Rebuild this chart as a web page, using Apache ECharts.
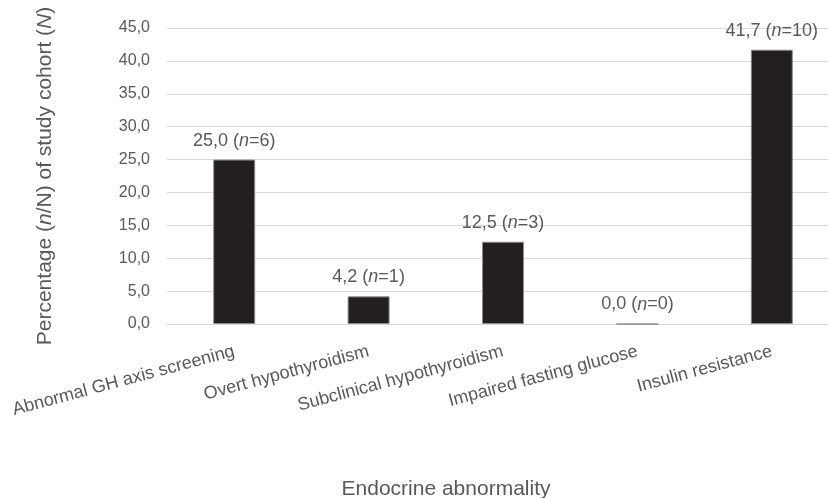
<!DOCTYPE html>
<html>
<head>
<meta charset="utf-8">
<script src="https://cdn.jsdelivr.net/npm/echarts@6/dist/echarts.min.js"></script>
<style>html,body{margin:0;padding:0;background:#fff;overflow:hidden;width:828px;height:498px;}#c{width:828px;height:498px;}</style>
</head>
<body>
<div id="c"></div>
<script>
const categories = ['Abnormal GH axis screening', 'Overt hypothyroidism', 'Subclinical hypothyroidism', 'Impaired fasting glucose', 'Insulin resistance'];
const percentages = [25.0, 4.2, 12.5, 0.0, 41.7];
const counts = [6, 1, 3, 0, 10];
const yTicks = { min: 0, max: 45, interval: 5 };

const fmt = v => v.toFixed(1).replace('.', ',');
const textColor = '#595959';
const fam = '"Liberation Sans", Arial, sans-serif';

const chart = echarts.init(document.getElementById('c'), null, { renderer: 'canvas' });
chart.setOption({
  animation: false,
  backgroundColor: '#ffffff',
  grid: { left: 167, top: 28, width: 672, height: 296, containLabel: false, outerBoundsMode: 'none' },
  xAxis: {
    type: 'category',
    data: categories,
    axisTick: { show: false },
    axisLine: { lineStyle: { color: '#d9d9d9', width: 1 } },
    axisLabel: { rotate: 15, color: textColor, fontSize: 18, fontFamily: fam, margin: 27, interval: 0 },
    name: 'Endocrine abnormality',
    nameLocation: 'middle',
    nameGap: 155,
    nameTextStyle: { color: textColor, fontSize: 21, fontFamily: fam, padding: [0, 114, 0, 0] }
  },
  yAxis: {
    type: 'value',
    min: yTicks.min, max: yTicks.max, interval: yTicks.interval,
    axisLine: { show: false },
    axisTick: { show: false },
    splitLine: { lineStyle: { color: '#d9d9d9', width: 1 } },
    axisLabel: { color: textColor, fontSize: 16, fontFamily: fam, margin: 17, formatter: v => fmt(v) },
    name: 'Percentage ({i|n}/N) of study cohort ({i|N})',
    nameLocation: 'middle',
    nameGap: 111,
    nameTextStyle: {
      color: textColor, fontSize: 21, fontFamily: fam,
      rich: { i: { fontStyle: 'italic', color: textColor, fontSize: 21, fontFamily: fam } }
    }
  },
  series: [{
    type: 'bar',
    data: percentages,
    barWidth: 42,
    itemStyle: { color: '#231f20', borderColor: '#8c8c8c', borderWidth: 1 },
    label: {
      show: true,
      position: 'top',
      distance: 10,
      color: textColor, fontSize: 18, fontFamily: fam,
      formatter: p => fmt(p.value) + ' ({i|n}=' + counts[p.dataIndex] + ')',
      rich: { i: { fontStyle: 'italic', color: textColor, fontSize: 18, fontFamily: fam } }
    }
  }]
});
</script>
</body>
</html>
